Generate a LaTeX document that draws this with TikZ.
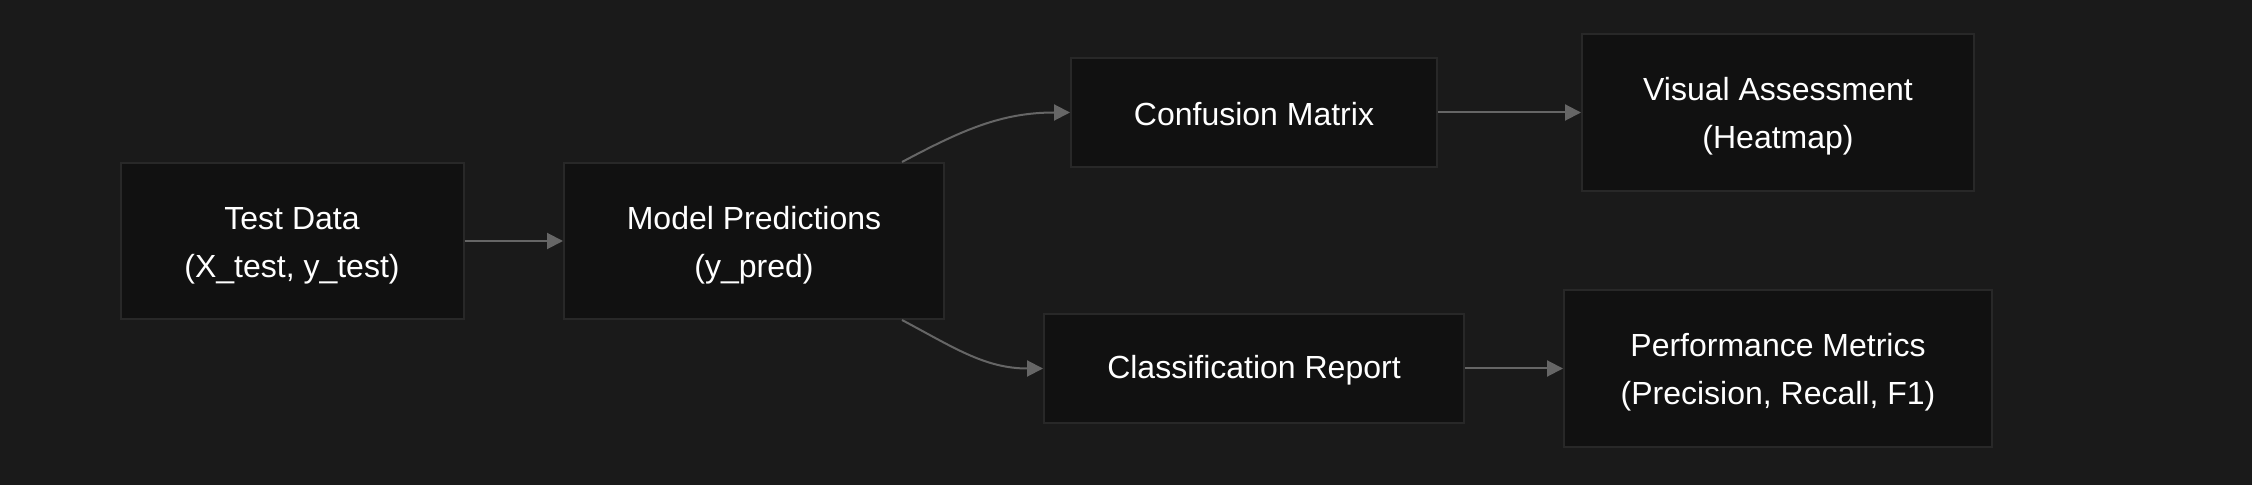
\documentclass[tikz,border=0pt]{standalone}
\usepackage{xcolor}
\usepackage{fontspec}
\setmainfont{Liberation Sans}
\usepackage{tikz}
\usetikzlibrary{arrows.meta}
\definecolor{bgdark}{HTML}{1A1A1A}
\definecolor{boxfill}{HTML}{111111}
\definecolor{boxline}{HTML}{282828}
\definecolor{arrowgray}{HTML}{666666}
\tikzset{
  toppad/.style={execute at begin node={\rule{0pt}{#1}}},
  stagebox/.style={draw=boxline, line width=1pt, fill=boxfill, text=white,
    align=center, inner sep=0pt, font=\fontsize{16pt}{24pt}\selectfont, toppad=13pt},
  twoline/.style={toppad=39.6pt},
  flow/.style={draw=arrowgray, line width=1pt,
    -{Triangle[length=8pt,width=8pt]}}
}

\begin{document}
\begin{tikzpicture}[x=0.5pt,y=-0.5pt]
            % Background (pixel grid of the reference)
            \fill[bgdark] (0,0) rectangle (2252,485);
            \useasboundingbox (0,0) rectangle (2252,485);
            % Stages
            \node[stagebox, twoline, minimum width=171.5pt, minimum height=78pt] (test) at (292,241) {Test Data\\(X\_test, y\_test)};
            \node[stagebox, twoline, minimum width=190pt, minimum height=78pt] (pred) at (754,241) {Model Predictions\\(y\_pred)};
            \node[stagebox, minimum width=183pt, minimum height=54.5pt] (conf) at (1254,112.5) {Confusion Matrix};
            \node[stagebox, twoline, minimum width=196pt, minimum height=78.5pt] (heat) at (1778,112.5) {Visual Assessment\\(Heatmap)};
            \node[stagebox, minimum width=210pt, minimum height=54.5pt] (report) at (1254,368.5) {Classification Report};
            \node[stagebox, twoline, minimum width=214pt, minimum height=78.5pt] (metrics) at (1778,368.5) {Performance Metrics\\(Precision, Recall, F1)};
            % Connectors
            \draw[flow] (test) -- (pred);
            \draw[flow] ([xshift=-21.5pt]pred.north east) to[out=28, in=180] (conf.west);
            \draw[flow] ([xshift=-21.5pt]pred.south east) to[out=-28, in=180] (report.west);
            \draw[flow] (conf) -- (heat);
            \draw[flow] (report) -- (metrics);
\end{tikzpicture}
\end{document}
